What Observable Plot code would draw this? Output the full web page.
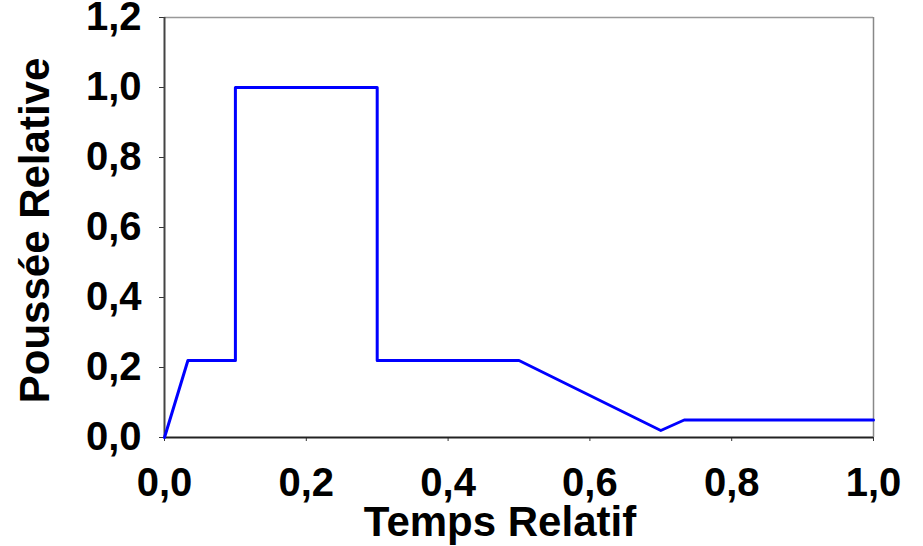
<!DOCTYPE html>
<html>
<head>
<meta charset="utf-8">
<script src="https://cdn.jsdelivr.net/npm/d3@7"></script>
<script src="https://cdn.jsdelivr.net/npm/@observablehq/plot@0.6"></script>
<style>
  html, body { margin: 0; padding: 0; background: #fff; }
</style>
</head>
<body>
<div id="chart"></div>
<script>
const time   = [0, 0.033, 0.1, 0.1, 0.3, 0.3, 0.5, 0.7, 0.733, 1.0];
const thrust = [0, 0.22, 0.22, 1.0, 1.0, 0.22, 0.22, 0.02, 0.05, 0.05];
const xTicks = [0, 0.2, 0.4, 0.6, 0.8, 1.0];
const yTicks = [0, 0.2, 0.4, 0.6, 0.8, 1.0, 1.2];
const xTitle = "Temps Relatif";
const yTitle = "Poussée Relative";

const data = time.map((t, i) => ({t, p: thrust[i]}));
const fmt = d => d.toFixed(1).replace(".", ",");

const chart = Plot.plot({
  width: 923,
  height: 546,
  marginLeft: 164,
  marginRight: 50,
  marginTop: 17,
  marginBottom: 109,
  style: {
    fontFamily: "'Liberation Sans', Arial, sans-serif",
    fontSize: "40px",
    fontWeight: "bold",
    color: "#000",
    background: "#fff",
    overflow: "visible"
  },
  x: {domain: [0, 1]},
  y: {domain: [0, 1.2]},
  marks: [
    Plot.ruleY([1.2], {stroke: "#999", strokeWidth: 1.5}),
    Plot.ruleX([1], {stroke: "#888", strokeWidth: 1.5}),
    Plot.axisX({ticks: xTicks, tickFormat: fmt, tickSize: 4, tickPadding: 26, stroke: "#333", strokeOpacity: 1, label: null, fill: "#000"}),
    Plot.axisY({ticks: yTicks, tickFormat: fmt, tickSize: 5, tickPadding: 18, stroke: "#333", strokeOpacity: 1, label: null, fill: "#000"}),
    Plot.ruleX([0], {stroke: "#444", strokeWidth: 2}),
    Plot.ruleY([0], {stroke: "#222", strokeWidth: 2}),
    Plot.line(data, {x: "t", y: "p", stroke: "#0000ff", strokeWidth: 3}),
    Plot.text([xTitle], {frameAnchor: "bottom", text: d => d, textAnchor: "middle", dx: -19, dy: 85, lineAnchor: "middle", fontSize: 42, fontWeight: "bold", fill: "#000"}),
    Plot.text([yTitle], {frameAnchor: "left", text: d => d, textAnchor: "middle", rotate: -90, dx: -129, dy: 3, lineAnchor: "middle", fontSize: 42, fontWeight: "bold", fill: "#000"})
  ]
});
document.getElementById("chart").appendChild(chart);
</script>
</body>
</html>
